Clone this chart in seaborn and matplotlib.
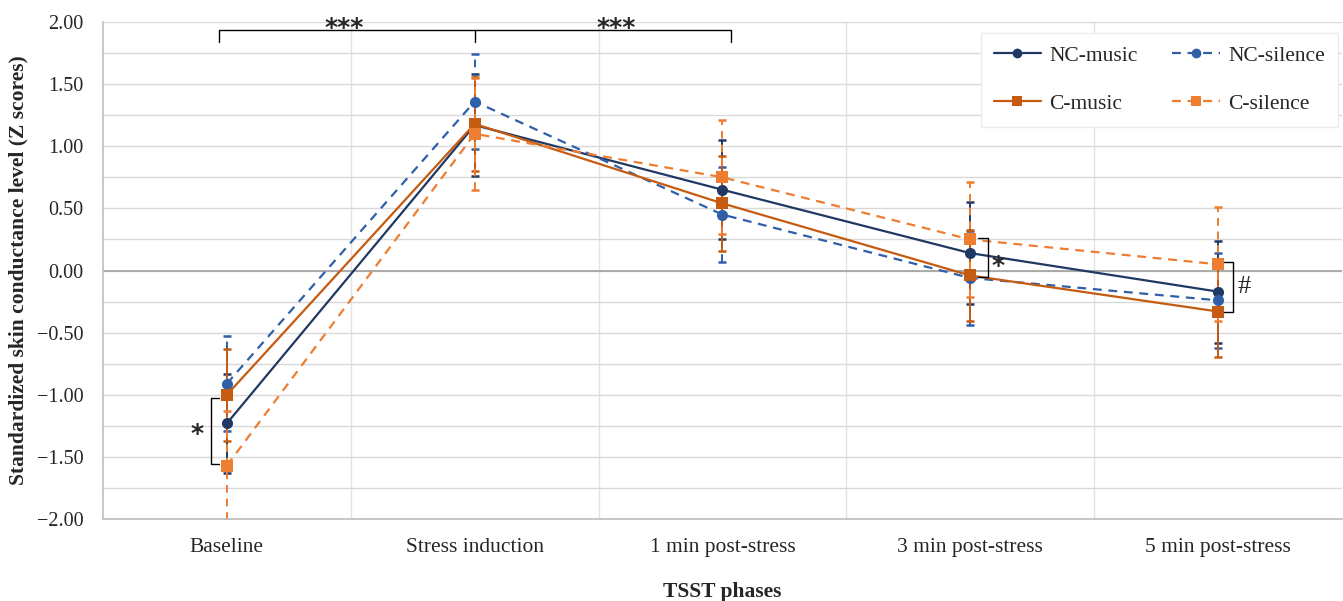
import numpy as np
import pandas as pd
import matplotlib
matplotlib.use("Agg")
import matplotlib.pyplot as plt
from matplotlib.ticker import MultipleLocator, FuncFormatter
import seaborn as sns

# dados
fases = ["Baseline", "Stress induction", "1 min post-stress", "3 min post-stress", "5 min post-stress"]
grupos = ["NC-music", "NC-silence", "C-music", "C-silence"]
nc_music = [-1.23, 1.17, 0.65, 0.14, -0.17]
nc_silence = [-0.91, 1.36, 0.45, -0.06, -0.24]
c_music = [-1.00, 1.18, 0.54, -0.04, -0.33]
c_silence = [-1.57, 1.10, 0.75, 0.25, 0.05]
se_nc_music = [0.40, 0.41, 0.40, 0.41, 0.41]
se_nc_silence = [0.38, 0.38, 0.38, 0.38, 0.38]
se_c_music = [0.37, 0.38, 0.38, 0.37, 0.37]
se_c_silence = [0.44, 0.45, 0.46, 0.46, 0.46]

cores = {"NC-music": "#203864", "NC-silence": "#2F5FA8",
         "C-music": "#C55A11", "C-silence": "#ED7D31"}
tracos = {"NC-music": "", "NC-silence": (4, 3), "C-music": "", "C-silence": (4, 3)}
marcas = {"NC-music": "o", "NC-silence": "o", "C-music": "s", "C-silence": "s"}

medias = [nc_music, nc_silence, c_music, c_silence]
erros = [se_nc_music, se_nc_silence, se_c_music, se_c_silence]
x = np.arange(len(fases))
df = pd.DataFrame({
    "fase": np.tile(x, len(grupos)),
    "grupo": np.repeat(grupos, len(fases)),
    "z": np.concatenate(medias),
    "se": np.concatenate(erros),
})

sns.set_theme(style="white")
plt.rcParams["font.family"] = ["Liberation Serif", "DejaVu Serif"]

fig = plt.figure(figsize=(13.43, 6.01), dpi=100)
ax = fig.add_axes([0.0767, 0.1364, 0.9225, 0.827])

# grelha
ax.yaxis.set_major_locator(MultipleLocator(0.5))
ax.yaxis.set_minor_locator(MultipleLocator(0.25))
ax.grid(which="both", axis="y", color="#D9D9D9", lw=1.0, zorder=0)
for b in np.arange(0.5, len(fases) - 1, 1):
    ax.axvline(b, color="#E3E3E3", lw=1.0, zorder=0)
ax.axhline(0, color="#A6A6A6", lw=1.3, zorder=1)

# barras de erro
for g, m, e in zip(grupos, medias, erros):
    _, caps, cols = ax.errorbar(x, m, yerr=e, fmt="none", ecolor=cores[g],
                                elinewidth=1.4, capsize=3, capthick=1.8, zorder=2)
    if tracos[g]:
        for c in cols:
            c.set_linestyle((0, (4, 3)))

sns.lineplot(data=df, x="fase", y="z", hue="grupo", style="grupo",
             hue_order=grupos, style_order=grupos, palette=cores,
             dashes=tracos, markers=marcas, markersize=8, linewidth=1.6,
             markeredgewidth=0, ax=ax, zorder=3, legend=True)

ax.set_xlim(-0.5, len(fases) - 0.5)
ax.set_ylim(-2, 2)
ax.set_xticks(x)
ax.set_xticklabels(fases, fontsize=15.5)
ax.yaxis.set_major_formatter(FuncFormatter(lambda v, p: f"{v:.2f}".replace("-", "\u2212")))
ax.tick_params(axis="y", labelsize=14.5, pad=14, length=0)
ax.tick_params(axis="x", pad=14, length=0)
ax.set_xlabel("TSST phases", fontsize=15.5, fontweight="bold", labelpad=18)
ax.set_ylabel("Standardized skin conductance level (Z scores)", fontsize=15.5,
              fontweight="bold", labelpad=6)
for s in ["top", "right"]:
    ax.spines[s].set_visible(False)
for s in ["left", "bottom"]:
    ax.spines[s].set_color("#BFBFBF")
    ax.spines[s].set_linewidth(1.2)

# legenda (linhas: NC em cima, C em baixo)
h, l = ax.get_legend_handles_labels()
ordem = [l.index(n) for n in ["NC-music", "C-music", "NC-silence", "C-silence"]]
for i in ordem:
    h[i].set_markersize(7)
ax.legend([h[i] for i in ordem], [l[i] for i in ordem], ncol=2,
          loc="upper right", bbox_to_anchor=(0.9968, 0.978), fontsize=15.5,
          frameon=True, fancybox=False, edgecolor="#EBEBEB",
          framealpha=1, handlelength=2.2, handletextpad=0.4, columnspacing=1.6,
          labelspacing=1.3, borderpad=0.6, borderaxespad=0)

# parênteses de significância
k = dict(color="black", lw=1.0, zorder=4)
est = dict(ha="center", va="baseline", fontfamily=["DejaVu Sans"],
           fontweight="bold", fontsize=18)
ax.plot([-0.03, -0.03, 2.036, 2.036], [1.835, 1.935, 1.935, 1.835], **k)
ax.plot([1, 1], [1.935, 1.835], **k)
ax.text(0.475, 1.895, "***", **est)
ax.text(1.57, 1.895, "***", **est)
ax.plot([-0.03, -0.065, -0.065, -0.03], [-1.026, -1.026, -1.557, -1.557], **k)
ax.text(-0.12, -1.37, "*", **est)
ax.plot([3.03, 3.073, 3.073, 3.03], [0.26, 0.26, -0.05, -0.05], **k)
ax.text(3.112, -0.02, "*", **est)
ax.plot([4.024, 4.06, 4.06, 4.024], [0.07, 0.07, -0.33, -0.33], **k)
ax.text(4.105, -0.13, "#", ha="center", va="center", fontsize=19)

fig.savefig("out.png", dpi=100)
